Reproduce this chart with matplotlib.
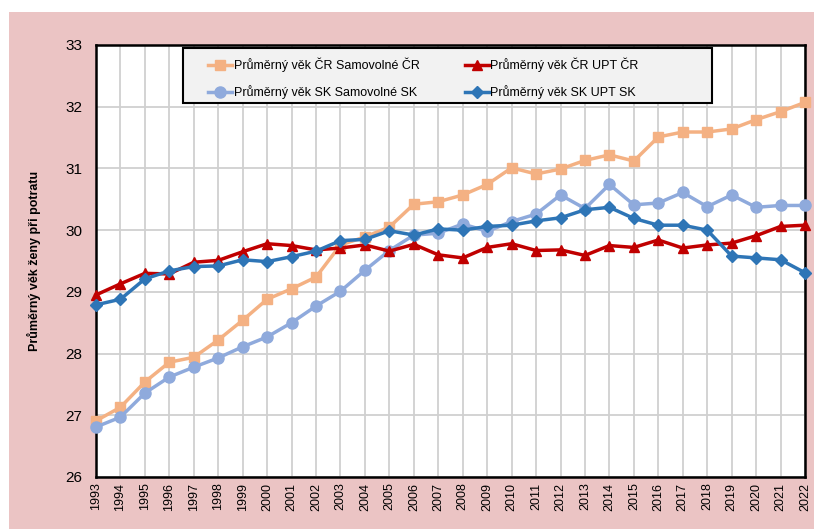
import matplotlib
matplotlib.use("Agg")
import matplotlib.pyplot as plt
from matplotlib.patches import Rectangle

plt.rcParams["font.family"] = ["Liberation Sans Narrow", "Liberation Sans", "DejaVu Sans"]

# ---------------------------------------------------------------------------
# Data
# ---------------------------------------------------------------------------
years = list(range(1993, 2023))

cr_samovolne = [26.91, 27.13, 27.54, 27.86, 27.94, 28.22, 28.54, 28.88, 29.05, 29.24,
                29.76, 29.89, 30.05, 30.42, 30.46, 30.57, 30.74, 31.01, 30.91, 30.99,
                31.13, 31.22, 31.12, 31.51, 31.59, 31.59, 31.64, 31.79, 31.92, 32.07]
cr_upt = [28.95, 29.13, 29.30, 29.29, 29.48, 29.51, 29.65, 29.78, 29.75, 29.68,
          29.71, 29.76, 29.66, 29.77, 29.60, 29.55, 29.72, 29.78, 29.67, 29.68,
          29.59, 29.75, 29.72, 29.84, 29.71, 29.76, 29.79, 29.91, 30.06, 30.08]
sk_samovolne = [26.81, 26.97, 27.36, 27.62, 27.78, 27.93, 28.11, 28.27, 28.50, 28.77,
                29.01, 29.35, 29.67, 29.92, 29.95, 30.10, 29.98, 30.14, 30.26, 30.57,
                30.35, 30.74, 30.41, 30.44, 30.61, 30.38, 30.57, 30.37, 30.40, 30.40]
sk_upt = [28.79, 28.88, 29.21, 29.34, 29.41, 29.42, 29.52, 29.49, 29.57, 29.66,
          29.83, 29.85, 29.99, 29.92, 30.02, 30.00, 30.06, 30.08, 30.15, 30.20,
          30.33, 30.37, 30.19, 30.08, 30.08, 30.00, 29.58, 29.55, 29.52, 29.31]

series_labels = ["Průměrný věk ČR Samovolné ČR", "Průměrný věk SK Samovolné SK",
                 "Průměrný věk ČR UPT ČR", "Průměrný věk SK UPT SK"]
y_ticks = [26, 27, 28, 29, 30, 31, 32, 33]

# ---------------------------------------------------------------------------
# Figure
# ---------------------------------------------------------------------------
W, H = 814, 529
fig = plt.figure(figsize=(W / 100, H / 100), dpi=100, facecolor="white")
fig.patches.append(Rectangle((9 / W, 0), 1, 1 - 12 / H, transform=fig.transFigure,
                             facecolor="#EBC4C4", edgecolor="none", zorder=-10))

ax = fig.add_axes([96 / W, 1 - 477 / H, 709 / W, 432 / H])
ax.set_facecolor("white")

styles = [
    (cr_samovolne, "#F4B183", "s", 7),
    (sk_samovolne, "#8FAADC", "o", 8),
    (cr_upt, "#C00000", "^", 7.5),
    (sk_upt, "#2E75B6", "D", 6),
]
for (vals, color, marker, ms), label in zip(styles, series_labels):
    ax.plot(years, vals, color=color, marker=marker, markersize=ms, linewidth=2.5,
            label=label, zorder=3, clip_on=False)

ax.set_xlim(1993, 2022)
ax.set_ylim(26, 33)
ax.set_xticks(years)
ax.set_xticklabels([str(y) for y in years], rotation=90, fontsize=9)
ax.set_yticks(y_ticks)
ax.set_yticklabels([str(t) for t in y_ticks], fontsize=11)
ax.tick_params(axis="both", length=0)
ax.tick_params(axis="y", pad=10)
ax.tick_params(axis="x", pad=4)

ax.grid(True, color="#D0D0D0", linewidth=1.3, zorder=0)
ax.set_axisbelow(True)
for sp in ax.spines.values():
    sp.set_linewidth(1.8)
    sp.set_color("black")

ax.set_ylabel("Průměrný věk ženy při potratu", fontsize=9, fontweight="bold", labelpad=17)

# legend box drawn separately so its size matches the reference
def px_to_ax(x, y):
    return (x - 96) / 709, (477 - y) / 432

x0, y0 = px_to_ax(183, 103)
x1, y1 = px_to_ax(712, 48)
ax.add_patch(Rectangle((x0, y0), x1 - x0, y1 - y0, transform=ax.transAxes,
                       facecolor="#F2F2F2", edgecolor="black", linewidth=1.5,
                       zorder=4, clip_on=False))

ax_lx, ax_ly = px_to_ax(202, 78.5)
leg = ax.legend(ncol=2, loc="center left", bbox_to_anchor=(ax_lx, ax_ly),
                fontsize=9, frameon=False, borderaxespad=0, borderpad=0.5,
                handlelength=1.9, handletextpad=0.15, columnspacing=3.6,
                labelspacing=1.05)
leg.set_zorder(5)

fig.savefig("out.png", dpi=100)
